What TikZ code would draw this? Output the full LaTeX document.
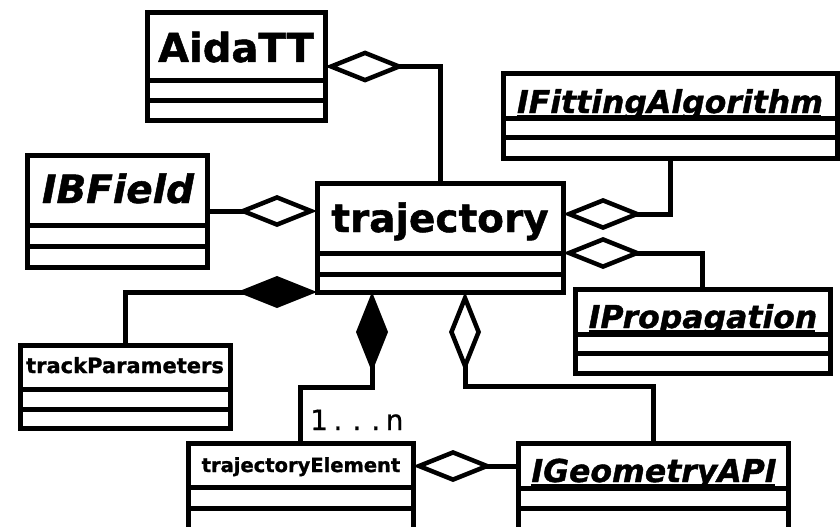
\documentclass[tikz,border=0pt]{standalone}
\usepackage{fontspec}
\newfontfamily\dvs{DejaVu Sans}
\newfontfamily\dvsb{DejaVu Sans Bold}[FakeBold=1.2]
\newfontfamily\dvsbi{DejaVu Sans Bold Oblique}[FakeBold=1.2]
\newfontfamily\dvsm{DejaVu Sans}[FakeBold=0.6]
\usetikzlibrary{arrows.meta,calc}

% \umlclass{name}{x1}{y1}{x2}{y2}{divider1}{divider2}
\newcommand\umlclass[7]{%
  \node[umlbox, minimum width={(#4-#2)*1pt}, minimum height={(#5-#3)*1pt}]
    (#1) at ({(#2+#4)/2},{(#3+#5)/2}) {};
  \coordinate (#1-d1w) at (#2,#6); \coordinate (#1-d1e) at (#4,#6);
  \coordinate (#1-d2w) at (#2,#7); \coordinate (#1-d2e) at (#4,#7);
  \draw[divider] (#1-d1w) -- (#1-d1e);
  \draw[divider] (#1-d2w) -- (#1-d2e);
}

\begin{document}
\begin{tikzpicture}[x=1pt,y=-1pt,
  lw/.style={line width=5pt},
  umlbox/.style={draw, lw, rectangle, inner sep=0pt, outer sep=0pt, fill=white},
  divider/.style={lw},
  conn/.style={lw, line join=miter},
  agg/.style={conn, -{Diamond[open,length=80pt,width=32pt,line width=4.5pt]}},
  comp/.style={conn, -{Diamond[length=80pt,width=32pt]}},
  bigtitle/.style={anchor=base, inner sep=0pt, font=\dvsb\fontsize{39}{39}\selectfont},
  ititle/.style={anchor=base, inner sep=0pt, font=\dvsbi\fontsize{31.5}{31.5}\selectfont},
  smalltitle/.style={anchor=base, inner sep=0pt, font=\dvsb\fontsize{20.5}{20.5}\selectfont},
  ul/.style={line width=3pt},
  mult/.style={anchor=base west, inner sep=0pt, font=\dvsm\fontsize{28}{28}\selectfont}
]
\fill[white] (0,0) rectangle (840,527);
\useasboundingbox (0,0) rectangle (840,527);
\begin{scope}
\clip (0,0) rectangle (840,527);

% class boxes
\umlclass{aida}{147}{13}{325}{120}{80}{100}
\umlclass{ifit}{503}{73}{837}{158}{118}{137}
\umlclass{ibf}{27}{155}{207}{267}{225}{246}
\umlclass{traj}{317}{183}{563}{292}{253}{274}
\umlclass{trk}{20}{345}{230}{428}{389}{409}
\umlclass{iprop}{575}{289}{830}{373}{334}{353}
\umlclass{trel}{188}{443}{413}{535}{487}{508}
\umlclass{igeo}{518}{443}{788}{535}{488}{508}

% titles
\node[bigtitle, font=\dvsb\fontsize{40}{40}\selectfont] (aidaT) at (236,62) {AidaTT};
\node[bigtitle] (trajT) at (440,232) {trajectory};
\node[ititle, font=\dvsbi\fontsize{39}{39}\selectfont] (ibfT) at (118,203) {IBField};
\node[ititle] (ifitT) at (670,113) {IFittingAlgorithm};
\node[ititle] (ipropT) at (703,328) {IPropagation};
\node[ititle] (igeoT) at (654,482) {IGeometryAPI};
\node[smalltitle, font=\dvsb\fontsize{21}{21}\selectfont] (trkT) at (125,373) {trackParameters};
\node[smalltitle, font=\dvsb\fontsize{19.5}{19.5}\selectfont] (trelT) at (301,472) {trajectoryElement};

% underlines of abstract classes
\foreach \n in {ifitT,ipropT,igeoT}
  \draw[ul] ($(\n.base west)+(0,3)$) -- ($(\n.base east)+(-2,3)$);

% connectors
\draw[agg] (traj.north) |- (aida.east);
\draw[agg] (ibf.east) -- (ibf.east -| traj.west);
\draw[agg] (ifit.south) |- ($(traj.north east)+(0,31)$);
\draw[agg] (iprop.north) |- (traj-d1e);
\draw[comp] (trk.north) |- (traj.south west);
\draw[comp] (trel.north) -- ++(0,-56) -| ($(traj.south west)+(55,0)$);
\draw[agg] (igeo.north) -- ++(0,-57) -| ($(traj.south west)+(148,0)$);
\coordinate (tep) at ($(trel.north east)+(0,23)$);
\draw[agg] (tep -| igeo.west) -- (tep);

% multiplicity
\node[mult] (multT) at (310,430) {1\hspace{5.5pt}.\hspace{10pt}.\hspace{10pt}.\hspace{5.5pt}n};
\end{scope}
\end{tikzpicture}
\end{document}
